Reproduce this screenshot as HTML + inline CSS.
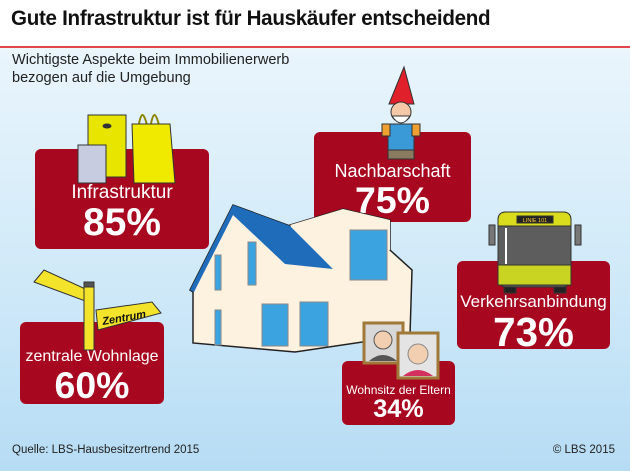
<!DOCTYPE html>
<html><head><meta charset="utf-8"><style>
html,body{margin:0;padding:0}
body{width:630px;height:471px;overflow:hidden;position:relative;font-family:"Liberation Sans",sans-serif;background:linear-gradient(#ffffff 0,#ffffff 46px,#eaf5fc 47px,#cde8f8 300px,#b6dcf4 471px)}
#title{position:absolute;left:11px;top:7px;font-size:21px;font-weight:bold;color:#111;letter-spacing:-0.3px;transform:scaleX(0.98);transform-origin:left;white-space:nowrap}
#rule{position:absolute;left:0;top:46px;width:630px;height:2px;background:#e3474e}
#sub{position:absolute;left:12px;top:51px;font-size:15px;line-height:18px;color:#222;transform:scaleX(0.97);transform-origin:left}
.box{position:absolute;background:#a8081f;border-radius:6px;color:#fff;text-align:center}
.box .lab{position:absolute;left:0;right:0;white-space:nowrap}
.box .val{position:absolute;left:0;right:0;font-weight:bold}
.foot{position:absolute;top:444px;font-size:11.5px;color:#222}
svg{position:absolute;left:0;top:0}
</style></head><body>
<div id="title">Gute Infrastruktur ist für Hauskäufer entscheidend</div>
<div id="rule"></div>
<div id="sub">Wichtigste Aspekte beim Immobilienerwerb<br>bezogen auf die Umgebung</div>
<div id="boxes"></div>
<svg width="630" height="471">
<g stroke="#222" stroke-width="1.5">
<polygon points="190,290 233,205 290,226 290,225 343,209 390,220 390,250 412,270 410,335 295,352 193,343 193,292" fill="#fdf1df"/>
<polygon points="233,205 190,290 194,292 233,215 285,264 333,269 290,226" fill="#1f6cbb" stroke="none"/>
<polygon points="290,225 343,209 390,220 390,250 333,269" fill="#fdf1df" stroke="none"/>
<g fill="#3aa3e0" stroke="#888" stroke-width="1">
<rect x="215" y="255" width="6" height="35"/><rect x="248" y="242" width="8" height="43"/><rect x="215" y="310" width="6" height="35"/>
<rect x="262" y="304" width="26" height="42"/><rect x="300" y="302" width="28" height="44"/><rect x="350" y="230" width="37" height="50"/>
</g>
</g>
<g stroke="#333" stroke-width="1">
<rect x="88" y="115" width="38" height="62" fill="#e8e600"/>
<ellipse cx="107" cy="126" rx="4" ry="2" fill="#333"/>
<rect x="78" y="145" width="28" height="38" fill="#c8cce0"/>
<path d="M138,130 q4,-30 10,0 M150,130 q4,-30 10,0" fill="none" stroke="#8a8300" stroke-width="2"/>
<polygon points="132,124 170,124 175,183 134,183" fill="#f0ea00"/>
</g>
<g stroke="#333" stroke-width="1">
<polygon points="404,67 389,104 414,104" fill="#e0202a"/>
<circle cx="401" cy="112" r="10" fill="#f5c9a8"/>
<path d="M392,116 q9,14 18,0 z" fill="#fff"/>
<rect x="388" y="124" width="26" height="26" fill="#3a9ad8"/>
<rect x="382" y="124" width="8" height="12" fill="#f0a030"/><rect x="412" y="124" width="8" height="12" fill="#f0a030"/>
<rect x="388" y="150" width="26" height="9" fill="#8a7a60"/>
</g>
<g stroke="#333" stroke-width="1">
<rect x="489" y="225" width="6" height="20" fill="#777"/><rect x="575" y="225" width="6" height="20" fill="#777"/>
<rect x="504" y="283" width="12" height="10" fill="#222"/><rect x="554" y="283" width="12" height="10" fill="#222"/>
<rect x="498" y="212" width="73" height="75" rx="8" fill="#5d5d5d"/>
<path d="M498,226 v-6 q0,-8 8,-8 h57 q8,0 8,8 v6 z" fill="#d8dc1c"/>
<rect x="498" y="265" width="73" height="20" fill="#c9d321"/>
<rect x="517" y="216" width="36" height="7" fill="#222"/>
<text x="535" y="222" font-size="5.5" fill="#fc3" text-anchor="middle" stroke="none">LINIE 101</text>
<line x1="506" y1="228" x2="506" y2="264" stroke="#fff" stroke-width="2"/>
</g>
<g stroke="#333" stroke-width="1">
<polygon points="34,282 44,270 92,292 88,302" fill="#f3e32a"/>
<rect x="84" y="282" width="10" height="68" fill="#f3e32a"/>
<rect x="84" y="282" width="10" height="5" fill="#555"/>
<polygon points="96,310 152,302 161,313 98,330" fill="#f3e32a"/>
<text x="103" y="325" font-size="11" font-weight="bold" font-style="italic" fill="#111" stroke="none" transform="rotate(-10 103 325)">Zentrum</text>
</g>
<g stroke="#a07838" stroke-width="3">
<rect x="364" y="323" width="39" height="40" fill="#d8d8d8"/>
<circle cx="383" cy="340" r="9" fill="#f1cfb0" stroke="#555" stroke-width="1"/>
<path d="M369,361 q14,-12 28,0" fill="#555" stroke="none"/>
<rect x="398" y="333" width="40" height="45" fill="#e4e4e4"/>
<circle cx="418" cy="354" r="10" fill="#f1cfb0" stroke="#888" stroke-width="1"/>
<path d="M403,376 q15,-12 30,0" fill="#d33060" stroke="none"/>
</g>
</svg>
<div class="foot" style="left:12px">Quelle: LBS-Hausbesitzertrend 2015</div>
<div class="foot" style="right:15px">© LBS 2015</div>
<script>
const labels=["Infrastruktur","Nachbarschaft","Verkehrsanbindung","zentrale Wohnlage","Wohnsitz der Eltern"];
const values=[85,75,73,60,34];
const names=["infrastruktur","nachbarschaft","verkehrsanbindung","zentrale-wohnlage","wohnsitz-der-eltern"];
const geo=[[35,149,174,100,33,19,54,38],[314,132,157,90,29,18,52,36],[457,261,153,88,31,17,56,36],[20,322,144,82,26,16,52,34],[342,361,113,64,22,12,35,28]];
const host=document.getElementById('boxes');
labels.forEach((l,i)=>{const g=geo[i];const b=document.createElement('div');b.className='box';


b.style.cssText=`left:${g[0]}px;top:${g[1]}px;width:${g[2]}px;height:${g[3]}px`;
const a=document.createElement('div');a.className='lab';a.textContent=l;a.style.top=g[4]+'px';a.style.fontSize=g[5]+'px';


const v=document.createElement('div');v.className='val';v.textContent=values[i]+'%';v.style.top=(g[4]+g[5])+'px';v.style.fontSize=g[6]*0.72+'px';


b.appendChild(a);b.appendChild(v);host.appendChild(b);});
</script>
</body></html>
